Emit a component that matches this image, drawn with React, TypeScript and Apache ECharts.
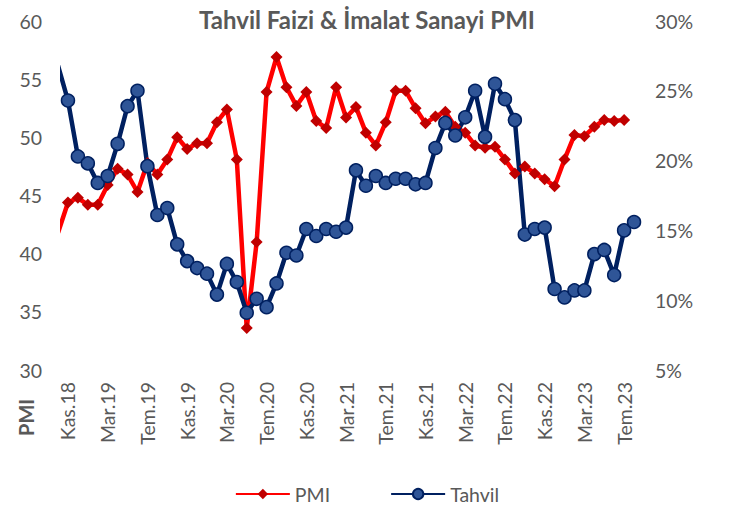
import React, { useEffect, useRef } from "react";
import * as echarts from "echarts";

const categories = [
  "Eki.18", "Kas.18", "Ara.18", "Oca.19", "Şub.19", "Mar.19", "Nis.19", "May.19", "Haz.19", "Tem.19",
  "Ağu.19", "Eyl.19", "Eki.19", "Kas.19", "Ara.19", "Oca.20", "Şub.20", "Mar.20", "Nis.20", "May.20",
  "Haz.20", "Tem.20", "Ağu.20", "Eyl.20", "Eki.20", "Kas.20", "Ara.20", "Oca.21", "Şub.21", "Mar.21",
  "Nis.21", "May.21", "Haz.21", "Tem.21", "Ağu.21", "Eyl.21", "Eki.21", "Kas.21", "Ara.21", "Oca.22",
  "Şub.22", "Mar.22", "Nis.22", "May.22", "Haz.22", "Tem.22", "Ağu.22", "Eyl.22", "Eki.22", "Kas.22",
  "Ara.22", "Oca.23", "Şub.23", "Mar.23", "Nis.23", "May.23", "Haz.23", "Tem.23", "Ağu.23",
];

const pmi = [
  41.8, 44.4, 44.8, 44.2, 44.2, 45.9, 47.3, 46.8, 45.3, 47.8,
  46.8, 48.1, 50.0, 49.0, 49.5, 49.5, 51.3, 52.4, 48.1, 33.6,
  41.0, 53.9, 56.9, 54.3, 52.7, 53.9, 51.4, 50.8, 54.3, 51.7,
  52.6, 50.4, 49.3, 51.3, 54.0, 54.0, 52.5, 51.2, 51.8, 52.2,
  50.9, 50.4, 49.3, 49.1, 49.2, 48.1, 46.9, 47.5, 46.9, 46.4,
  45.8, 48.1, 50.2, 50.1, 50.9, 51.5, 51.4, 51.5, null,
];

const tahvil = [
  26.8, 24.3, 20.3, 19.8, 18.4, 18.9, 21.2, 23.9, 25.0, 19.6,
  16.1, 16.6, 14.0, 12.8, 12.3, 11.9, 10.4, 12.6, 11.3, 9.1,
  10.1, 9.5, 11.2, 13.4, 13.2, 15.1, 14.6, 15.1, 14.9, 15.2,
  19.3, 18.2, 18.9, 18.4, 18.7, 18.7, 18.3, 18.4, 20.9, 22.7,
  21.8, 23.1, 25.0, 21.7, 25.5, 24.4, 22.9, 14.7, 15.1, 15.2,
  10.8, 10.2, 10.7, 10.7, 13.3, 13.6, 11.8, 15.0, 15.6,
];

const TITLE = "Tahvil Faizi & İmalat Sanayi PMI";
const FONT = "Lato";
const GRAY = "#595959";

export default function App() {
  const ref = useRef<HTMLDivElement>(null);

  useEffect(() => {
    if (!ref.current) return;
    const chart = echarts.init(ref.current, null, { renderer: "svg" });
    chart.setOption({
      animation: false,
      textStyle: { fontFamily: FONT },
      title: {
        text: TITLE,
        left: "center",
        top: 2,
        textStyle: { fontFamily: FONT, fontSize: 24, fontWeight: "bold", color: GRAY },
      },
      grid: { left: 63, right: 95, top: 21, bottom: 140 },
      legend: {
        data: ["PMI", "Tahvil"],
        left: "center",
        top: 479,
        itemWidth: 54,
        itemHeight: 13,
        itemGap: 60,
        textStyle: { fontFamily: FONT, fontSize: 19.5, color: GRAY },
      },
      xAxis: {
        type: "category",
        data: categories,
        min: 1,
        boundaryGap: true,
        axisLine: { show: false },
        axisTick: { show: false },
        splitLine: { show: false },
        axisLabel: {
          rotate: 90,
          margin: 12,
          fontFamily: FONT,
          fontSize: 19.5,
          color: GRAY,
          interval: (index: number) => (index - 1) % 4 === 0,
        },
      },
      yAxis: [
        {
          type: "value",
          min: 30,
          max: 60,
          interval: 5,
          axisLine: { show: false },
          axisTick: { show: false },
          splitLine: { show: false },
          axisLabel: { fontFamily: FONT, fontSize: 19.5, color: GRAY, margin: 21 },
        },
        {
          type: "value",
          min: 5,
          max: 30,
          interval: 5,
          position: "right",
          axisLine: { show: false },
          axisTick: { show: false },
          splitLine: { show: false },
          axisLabel: { fontFamily: FONT, fontSize: 19.5, color: GRAY, margin: 16, formatter: "{value}%" },
        },
      ],
      graphic: [
        {
          type: "text",
          x: 16,
          y: 436,
          rotation: Math.PI / 2,
          style: {
            text: "PMI",
            fontFamily: FONT,
            fontSize: 20,
            fontWeight: "bold",
            fill: GRAY,
            textVerticalAlign: "top",
          },
        },
      ],
      series: [
        {
          name: "PMI",
          type: "line",
          data: pmi,
          yAxisIndex: 0,
          symbol: "diamond",
          symbolSize: 12,
          showAllSymbol: true,
          lineStyle: { color: "#FF0000", width: 4.5 },
          itemStyle: { color: "#C00000" },
          clip: true,
        },
        {
          name: "Tahvil",
          type: "line",
          data: tahvil,
          yAxisIndex: 1,
          symbol: "circle",
          symbolSize: 13,
          showAllSymbol: true,
          lineStyle: { color: "#002060", width: 4.5 },
          itemStyle: { color: "#2F5597", borderColor: "#002060", borderWidth: 1.5 },
          clip: true,
        },
      ],
    });
    return () => chart.dispose();
  }, []);

  return (
    <div
      ref={ref}
      style={{ position: "absolute", left: 0, top: 0, width: 734, height: 510, background: "#fff" }}
    />
  );
}
